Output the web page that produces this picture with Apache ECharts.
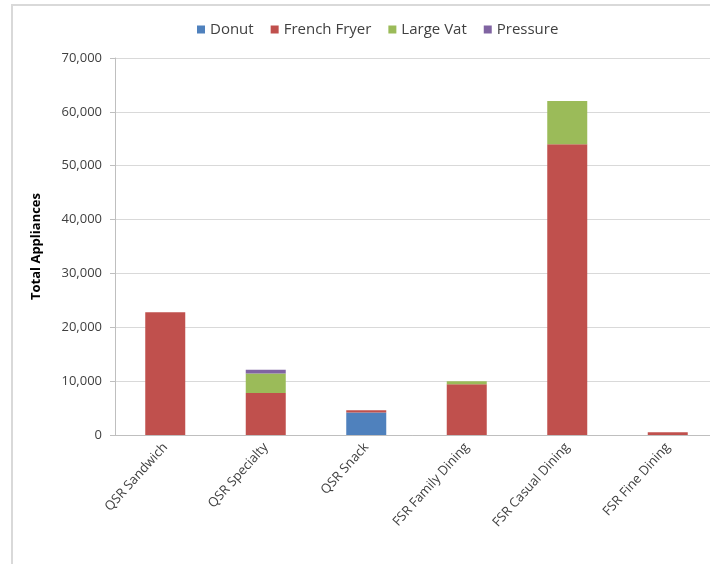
<!DOCTYPE html>
<html>
<head>
<meta charset="utf-8">
<script src="https://cdn.jsdelivr.net/npm/echarts@6/dist/echarts.min.js"></script>
<style>
html, body { margin: 0; padding: 0; background: #fff; }
#main { width: 710px; height: 564px; }
</style>
</head>
<body>
<div id="main"></div>
<script>
// categories & series values
var categories = ['QSR Sandwich', 'QSR Specialty', 'QSR Snack', 'FSR Family Dining', 'FSR Casual Dining', 'FSR Fine Dining'];
var donut = [0, 0, 4200, 0, 0, 0];
var frenchFryer = [22800, 7800, 400, 9400, 54000, 500];
var largeVat = [0, 3600, 0, 600, 8000, 0];
var pressure = [0, 700, 0, 0, 0, 0];
var yTicks = [0, 10000, 20000, 30000, 40000, 50000, 60000, 70000];

var font = 'Open Sans';
var chart = echarts.init(document.getElementById('main'));

function bar(name, data) {
    return { name: name, type: 'bar', stack: 'total', barWidth: 40, data: data };
}

chart.setOption({
    animation: false,
    color: ['#4f81bd', '#c0504d', '#9bbb59', '#8064a2'],
    textStyle: { fontFamily: font },
    graphic: [{
        type: 'rect',
        shape: { x: 12, y: 5, width: 720, height: 580 },
        style: { fill: 'none', stroke: '#d9d9d9', lineWidth: 2 }
    }],
    legend: {
        top: 17,
        left: 192,
        itemWidth: 8,
        itemHeight: 8,
        itemGap: 17,
        icon: 'rect',
        textStyle: { fontSize: 15, color: '#404040', fontFamily: font },
        data: ['Donut', 'French Fryer', 'Large Vat', 'Pressure']
    },
    // plot runs slightly past the right edge, as in the original
    grid: { left: 115, top: 58, right: -8, bottom: 129, outerBoundsMode: 'none' },
    xAxis: {
        type: 'category',
        data: categories,
        axisLine: { lineStyle: { color: '#bfbfbf' } },
        axisTick: { alignWithLabel: false, length: 5, lineStyle: { color: '#bfbfbf' } },
        axisLabel: { rotate: 48, color: '#404040', fontSize: 13, margin: 10, interval: 0 }
    },
    yAxis: {
        type: 'value',
        min: 0,
        max: yTicks[yTicks.length - 1],
        interval: yTicks[1] - yTicks[0],
        name: 'Total Appliances',
        nameLocation: 'middle',
        nameGap: 72,
        nameTextStyle: { fontWeight: 'bold', fontSize: 13, color: '#000' },
        axisLine: { show: true, lineStyle: { color: '#bfbfbf' } },
        axisTick: { show: true, length: 5, lineStyle: { color: '#bfbfbf' } },
        axisLabel: {
            color: '#404040', fontSize: 13, margin: 13,
            formatter: function (v) { return v.toLocaleString('en-US'); }
        },
        splitLine: { lineStyle: { color: '#d9d9d9' } }
    },
    series: [
        bar('Donut', donut),
        bar('French Fryer', frenchFryer),
        bar('Large Vat', largeVat),
        bar('Pressure', pressure)
    ]
});
</script>
</body>
</html>
